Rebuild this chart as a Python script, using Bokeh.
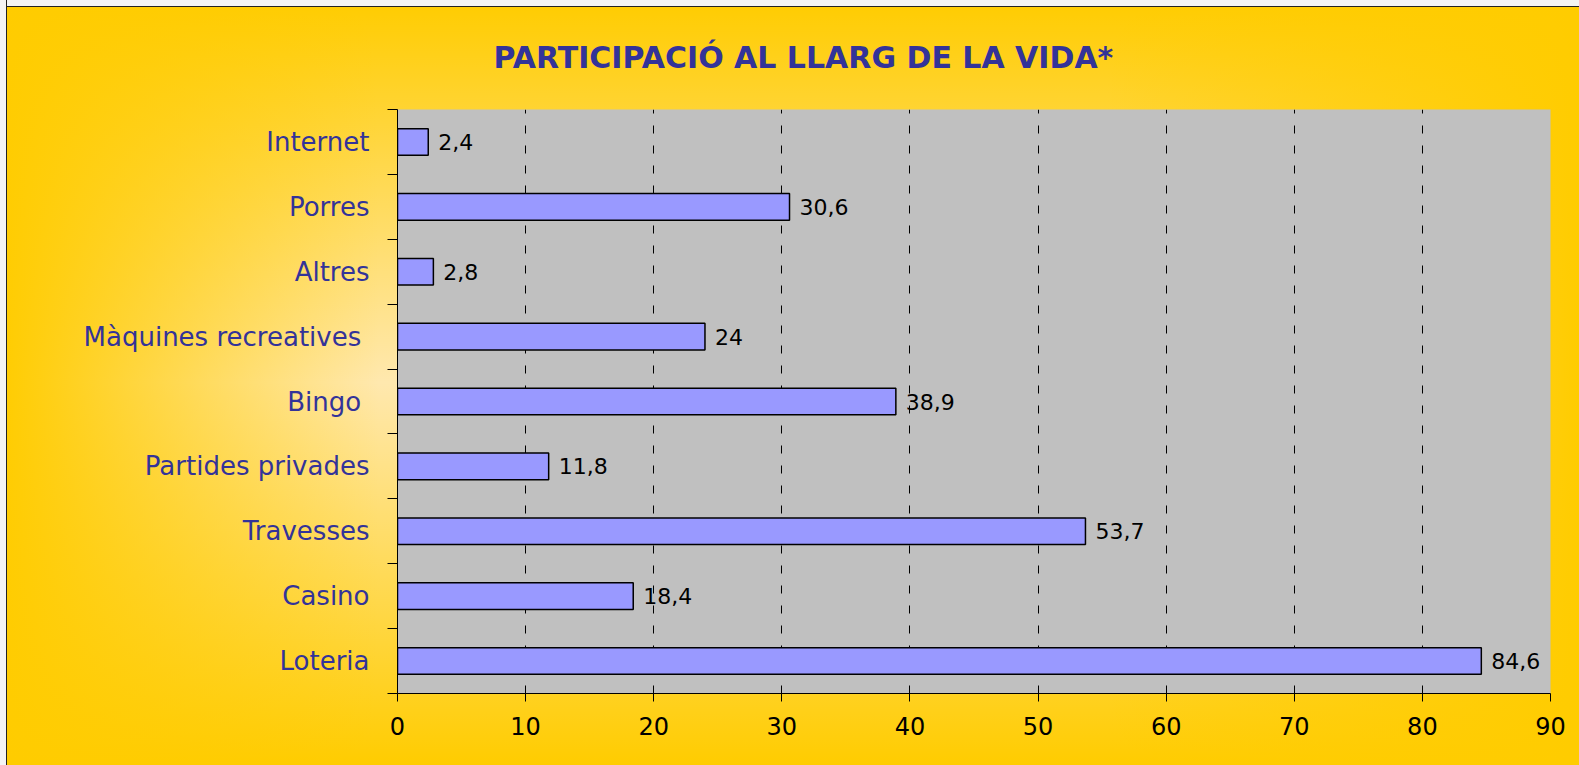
from bokeh.plotting import figure
from bokeh.models import (FactorRange, Range1d, LinearAxis, CategoricalAxis, FixedTicker,
                          ColumnDataSource, LabelSet)
from bokeh.core.properties import value
from bokeh.embed import file_html
from bokeh.resources import INLINE

# ---------------- data ----------------
title_text = "PARTICIPACIÓ AL LLARG DE LA VIDA*"
categories = ["Internet", "Porres", "Altres", "Màquines recreatives ", "Bingo ",
              "Partides privades", "Travesses", "Casino", "Loteria"]
values = [2.4, 30.6, 2.8, 24, 38.9, 11.8, 53.7, 18.4, 84.6]
x_ticks = [0, 10, 20, 30, 40, 50, 60, 70, 80, 90]


def fmt(v):
    return f"{v:g}".replace(".", ",")


FONT = "DejaVu Sans"
BLUE = "#333399"

factors = list(reversed(categories))
src = ColumnDataSource(dict(cat=categories, val=values, lab=[fmt(v) for v in values]))

p = figure(width=1579, height=765,
           y_range=FactorRange(factors=factors),
           x_range=Range1d(x_ticks[0], x_ticks[-1]),
           output_backend="svg", toolbar_location=None,
           y_axis_location=None,
           min_border_left=397, min_border_right=29,
           min_border_top=109, min_border_bottom=72)

# title
p.title.text = title_text
p.title.align = "left"
p.title.offset = 96
p.title.standoff = 70
p.title.text_font = FONT
p.title.text_font_size = "30px"
p.title.text_font_style = "bold"
p.title.text_color = BLUE

# axis with tick marks at category boundaries (synthetic coordinates 0..n)
bounds = list(range(len(categories) + 1))
tick_axis = LinearAxis(ticker=FixedTicker(ticks=bounds),
                       major_tick_out=10, major_tick_in=0,
                       minor_tick_out=0, minor_tick_in=0,
                       axis_line_color="black", axis_line_width=1,
                       major_tick_line_color="black",
                       major_label_overrides={b: "" for b in bounds},
                       major_label_standoff=0)
p.add_layout(tick_axis, "left")

# axis with category names
cat_axis = CategoricalAxis(major_tick_out=0, major_tick_in=0,
                           axis_line_color=None, major_tick_line_color=None,
                           major_label_text_font=FONT,
                           major_label_text_font_size="26px",
                           major_label_text_color=BLUE,
                           major_label_standoff=18)
p.add_layout(cat_axis, "left")

# x axis
p.xaxis.ticker = FixedTicker(ticks=x_ticks)
p.xaxis.major_tick_out = 8
p.xaxis.major_tick_in = 0
p.xaxis.minor_tick_line_color = None
p.xaxis.axis_line_color = "black"
p.xaxis.major_tick_line_color = "black"
p.xaxis.major_label_text_font = FONT
p.xaxis.major_label_text_font_size = "24px"
p.xaxis.major_label_text_color = "black"
p.xaxis.major_label_standoff = 15

# grid
p.xgrid.ticker = FixedTicker(ticks=x_ticks[1:-1])
p.xgrid.grid_line_color = "black"
p.xgrid.grid_line_dash = "8 12"
p.xgrid.grid_line_width = 1
p.ygrid.grid_line_color = None

# bars
p.hbar(y="cat", left=0, right="val", height=0.41, source=src,
       fill_color="#9999FF", line_color="black", line_width=1.5)

# value labels
p.add_layout(LabelSet(x="val", y="cat", text="lab", source=src,
                      x_offset=10, text_baseline="middle", text_align="left",
                      text_font=value(FONT), text_font_size="22px", text_color="black"))

p.background_fill_color = "#C0C0C0"
p.border_fill_color = None
p.outline_line_color = None
p.styles = {
    "background": ("linear-gradient(to right, #F4F4F4 0px, #F4F4F4 6px, #222222 6px, #222222 7.5px, rgba(0,0,0,0) 7.5px), "
                   "linear-gradient(to bottom, #F4F4F4 0px, #F4F4F4 6px, #222222 6px, #222222 7.5px, rgba(0,0,0,0) 7.5px), "
                   "linear-gradient(to right, #FFCC00 0%, rgba(255,204,0,0) 24%, "
                   "rgba(255,204,0,0) 70%, #FFCC00 100%), "
                   "linear-gradient(to bottom, #FFCC00 0%, rgba(255,204,0,0) 50%, #FFCC00 100%), "
                   "#FFE8AE"),
}

open("out.html", "w").write(file_html(p, INLINE))
